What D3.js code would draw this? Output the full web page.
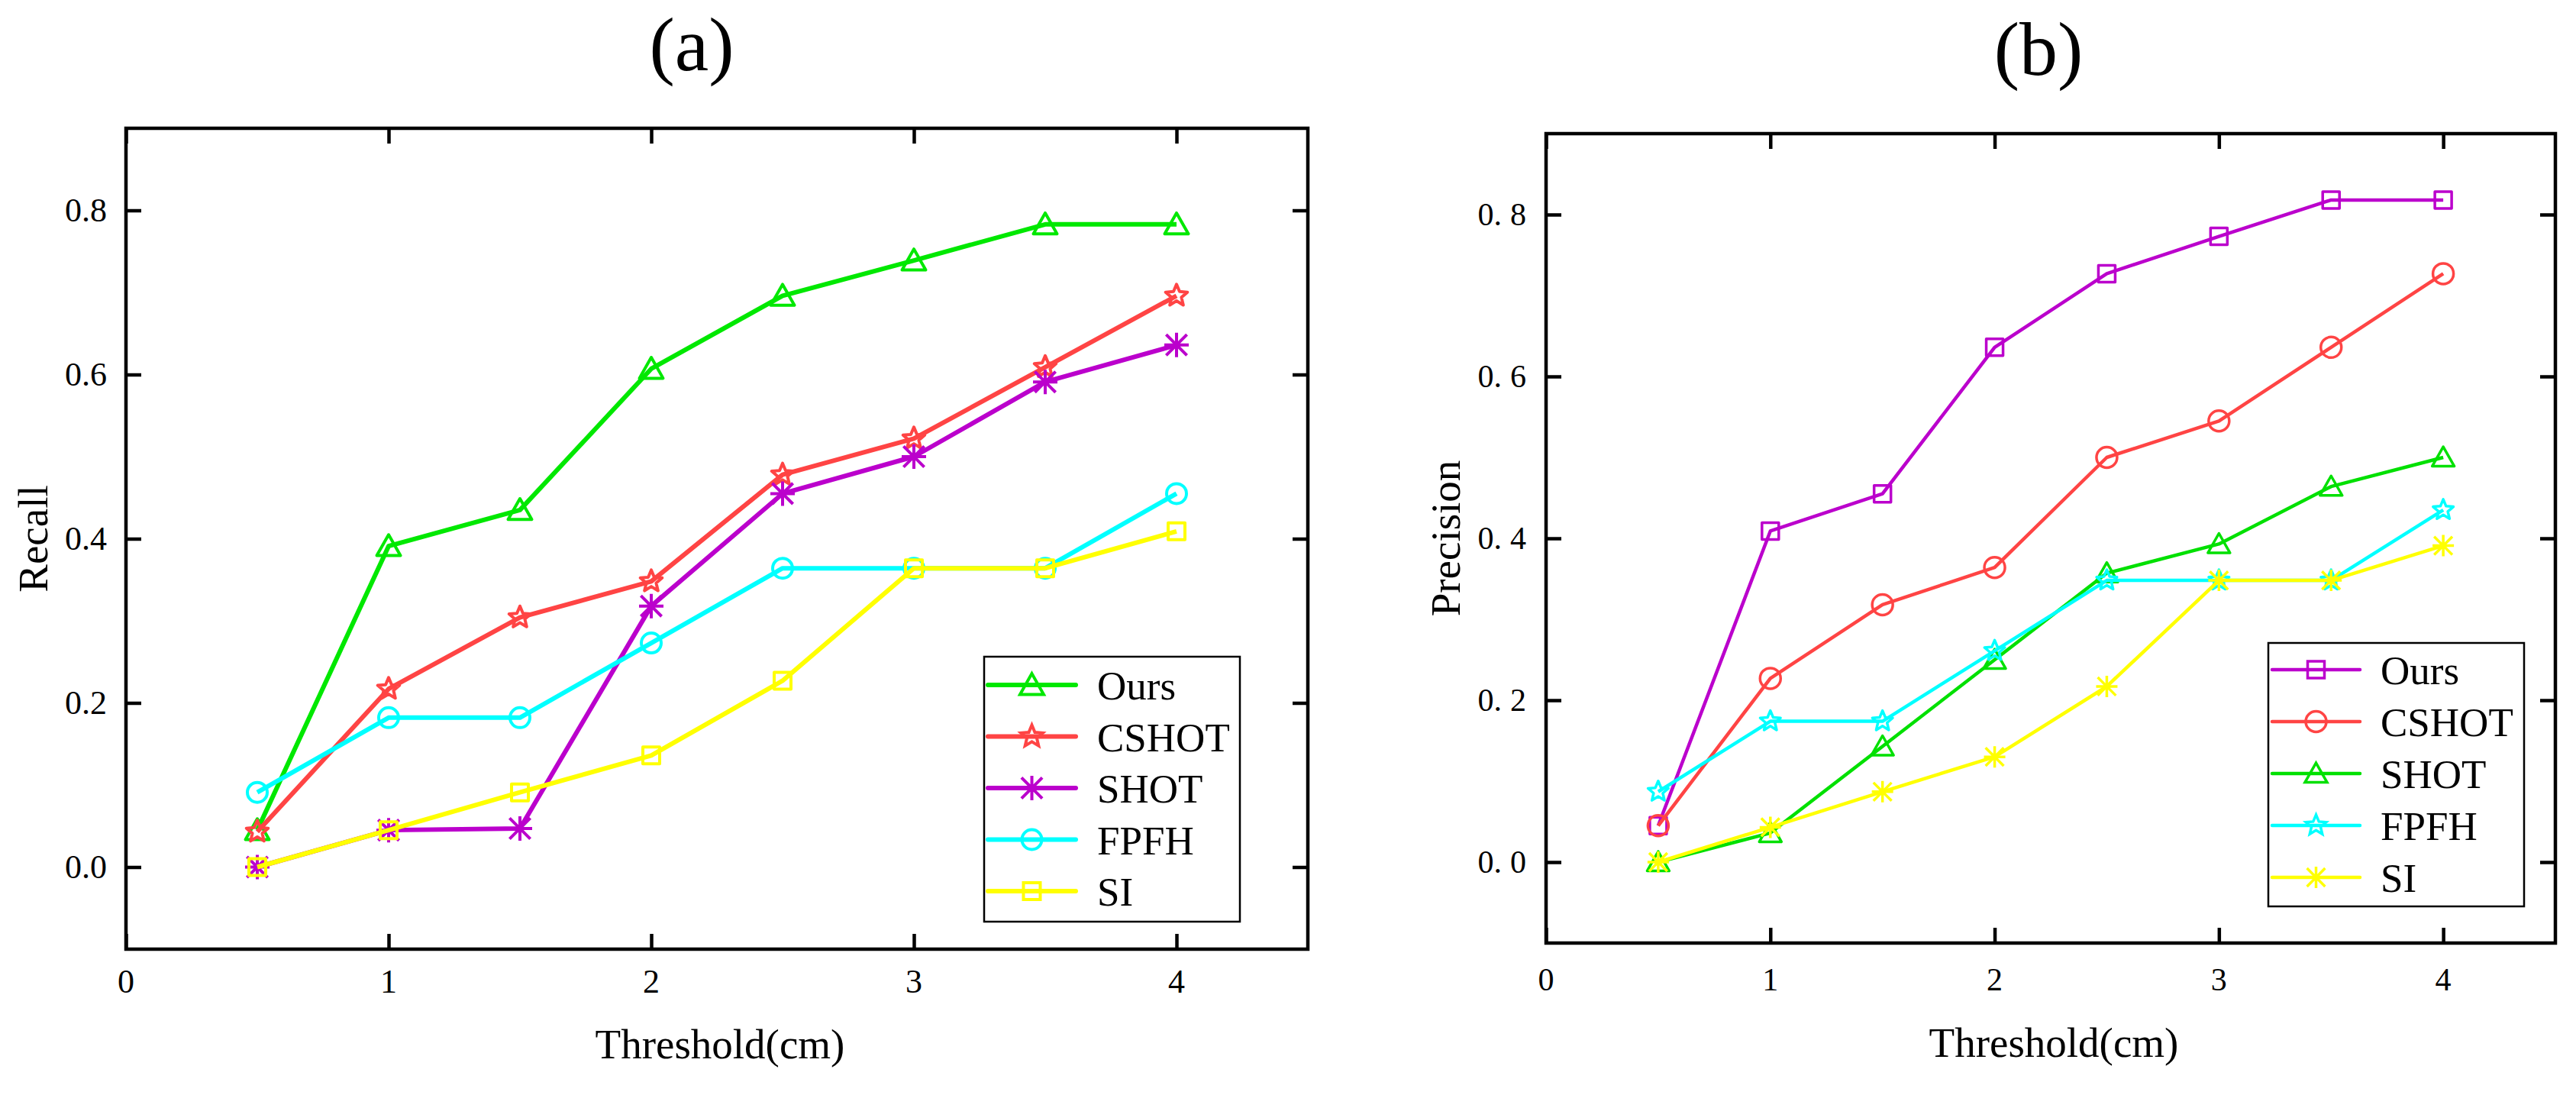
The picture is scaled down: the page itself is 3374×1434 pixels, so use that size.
<!DOCTYPE html>
<html>
<head>
<meta charset="utf-8">
<script src="https://cdn.jsdelivr.net/npm/d3@7"></script>
<style>
body{margin:0;background:#fff}
svg text{font-family:'Liberation Serif','Times New Roman',Times,'DejaVu Serif',serif;fill:#000}
</style>
</head>
<body>
<svg width="3374" height="1434"></svg>
<script>
// thresholds (cm) on the x axis
var thresholds=[0.5,1,1.5,2,2.5,3,3.5,4];
var xTicks=[0,1,2,3,4];
var yTicks=[0,0.2,0.4,0.6,0.8];
var names=["Ours","CSHOT","SHOT","FPFH","SI"];

// (a) recall
var recallOurs=[0.045,0.391,0.435,0.607,0.696,0.739,0.783,0.783];
var recallCSHOT=[0.043,0.217,0.304,0.348,0.478,0.522,0.609,0.696];
var recallSHOT=[0,0.045,0.047,0.318,0.455,0.5,0.591,0.636];
var recallFPFH=[0.091,0.182,0.182,0.273,0.364,0.364,0.364,0.455];
var recallSI=[0,0.045,0.091,0.136,0.227,0.364,0.364,0.409];

// (b) precision
var precOurs=[0.045,0.409,0.455,0.636,0.727,0.773,0.818,0.818];
var precCSHOT=[0.045,0.227,0.318,0.364,0.5,0.545,0.636,0.727];
var precSHOT=[0,0.036,0.143,0.25,0.357,0.393,0.464,0.5];
var precFPFH=[0.087,0.174,0.174,0.261,0.348,0.348,0.348,0.435];
var precSI=[0,0.043,0.087,0.13,0.217,0.348,0.348,0.391];

var serif="'Liberation Serif','Times New Roman',Times,'DejaVu Serif',serif";

function markerPath(type,s)
{
  var h=s/2;
  if(type=="triangle")
    return "M0,"+(-0.48*s)+"L"+h+","+(0.4*s)+"L"+(-h)+","+(0.4*s)+"Z";
  if(type=="square")
    return "M"+(-h)+","+(-h)+"H"+h+"V"+h+"H"+(-h)+"Z";
  if(type=="circle")
    return "M"+(-h)+",0A"+h+","+h+" 0 1 0 "+h+",0A"+h+","+h+" 0 1 0 "+(-h)+",0Z";
  if(type=="star")
  {
    var p=d3.path();
    for(var i=0;i<10;i++)
    {
      var r=i%2==0?h:h*0.45;
      var a=-Math.PI/2+i*Math.PI/5;
      if(i==0) p.moveTo(r*Math.cos(a),r*Math.sin(a));
      else p.lineTo(r*Math.cos(a),r*Math.sin(a));
    }
    p.closePath();
    return p.toString();
  }
  // asterisk
  var d=h*0.85;
  return "M0,"+(-h)+"V"+h+"M"+(-d)+","+(-d)+"L"+d+","+d+"M"+(-d)+","+d+"L"+d+","+(-d)+"M"+(-h)+",0H"+h;
}

function label(g,size)
{
  return g.append("text")
    .attr("font-family",serif)
    .style("font-family",serif)
    .style("font-size",size+"px");
}

function drawPanel(cfg)
{
  var svg=d3.select("svg");
  var g=svg.append("g");
  var x=d3.scaleLinear().domain([0,4.5]).range([cfg.left,cfg.right]);
  var y=d3.scaleLinear().domain([-0.1,0.9]).range([cfg.bottom,cfg.top]);

  // frame
  g.append("rect")
    .attr("x",cfg.left).attr("y",cfg.top)
    .attr("width",cfg.right-cfg.left).attr("height",cfg.bottom-cfg.top)
    .attr("fill","none").attr("stroke","#000").attr("stroke-width",4.5);

  // inward ticks on all four sides
  g.append("g").attr("transform","translate(0,"+cfg.bottom+")")
    .call(d3.axisBottom(x).tickValues(xTicks).tickSize(-20).tickFormat(""))
    .call(a=>a.select(".domain").remove());
  g.append("g").attr("transform","translate(0,"+cfg.top+")")
    .call(d3.axisTop(x).tickValues(xTicks).tickSize(-20).tickFormat(""))
    .call(a=>a.select(".domain").remove());
  g.append("g").attr("transform","translate("+cfg.left+",0)")
    .call(d3.axisLeft(y).tickValues(yTicks).tickSize(-20).tickFormat(""))
    .call(a=>a.select(".domain").remove());
  g.append("g").attr("transform","translate("+cfg.right+",0)")
    .call(d3.axisRight(y).tickValues(yTicks).tickSize(-20).tickFormat(""))
    .call(a=>a.select(".domain").remove());
  g.selectAll(".tick line").attr("stroke","#000").attr("stroke-width",4.5);

  // tick labels
  xTicks.forEach(function(t){
    label(g,cfg.tickFont).attr("x",x(t)).attr("y",cfg.xLabY)
      .attr("text-anchor","middle").text(t);
  });
  yTicks.forEach(function(t){
    var s=t.toFixed(1);
    var tx=label(g,cfg.tickFont).attr("x",cfg.left-cfg.yLabGap)
      .attr("y",y(t)+cfg.tickFont*0.34).attr("text-anchor","end");
    if(cfg.spaced)
    {
      tx.append("tspan").text(s.slice(0,2));
      tx.append("tspan").attr("dx",11).text(s.slice(2));
    }
    else tx.text(s);
  });

  // titles
  label(g,100).attr("x",cfg.titleX).attr("y",cfg.titleY)
    .attr("text-anchor","middle").text(cfg.title);
  label(g,55).attr("x",(cfg.left+cfg.right)/2+4).attr("y",cfg.xTitleY)
    .attr("text-anchor","middle").text("Threshold(cm)");
  label(g,55)
    .attr("transform","translate("+cfg.yTitleX+","+(cfg.top+cfg.bottom)/2+") rotate(-90)")
    .attr("text-anchor","middle").text(cfg.yTitle);

  // series
  var line=d3.line().x((d,i)=>x(thresholds[i])).y(d=>y(d));
  cfg.series.forEach(function(s){
    g.append("path").datum(s.values)
      .attr("d",line).attr("fill","none")
      .attr("stroke",s.color).attr("stroke-width",cfg.lineW)
      .attr("stroke-linejoin","round");
    g.selectAll(null).data(s.values).enter().append("path")
      .attr("transform",(d,i)=>"translate("+x(thresholds[i])+","+y(d)+")")
      .attr("d",markerPath(s.marker,s.size))
      .attr("fill","none").attr("stroke",s.color)
      .attr("stroke-width",cfg.markW).attr("stroke-linejoin","round");
  });

  // legend
  var L=cfg.legend;
  g.append("rect").attr("x",L.x0).attr("y",L.y0)
    .attr("width",L.x1-L.x0).attr("height",L.y1-L.y0)
    .attr("fill","#fff").attr("stroke","#000").attr("stroke-width",2.5);
  cfg.series.forEach(function(s,i){
    var yy=L.row0+i*L.step;
    g.append("line").attr("x1",L.lx0).attr("x2",L.lx1).attr("y1",yy).attr("y2",yy)
      .attr("stroke",s.color).attr("stroke-width",cfg.lineW).attr("stroke-linecap","round");
    g.append("path").attr("transform","translate("+(L.lx0+L.lx1)/2+","+yy+")")
      .attr("d",markerPath(s.marker,s.size))
      .attr("fill","none").attr("stroke",s.color).attr("stroke-width",cfg.markW);
    label(g,53).attr("x",L.tx).attr("y",yy+19).text(s.name);
  });
}

drawPanel({
  left:165,right:1713,top:168,bottom:1243,
  tickFont:44,xLabY:1300,yLabGap:25,spaced:false,
  title:"(a)",titleX:906,titleY:92,xTitleY:1386,yTitle:"Recall",yTitleX:62,
  lineW:6,markW:4,
  series:[
    {name:names[0],values:recallOurs,color:"#00e800",marker:"triangle",size:31},
    {name:names[1],values:recallCSHOT,color:"#ff4444",marker:"star",size:30},
    {name:names[2],values:recallSHOT,color:"#bb00cc",marker:"asterisk",size:32},
    {name:names[3],values:recallFPFH,color:"#00ffff",marker:"circle",size:26},
    {name:names[4],values:recallSI,color:"#ffff00",marker:"square",size:22}
  ],
  legend:{x0:1289,x1:1624,y0:860,y1:1207,row0:897,step:67.5,lx0:1294,lx1:1409,tx:1437}
});

drawPanel({
  left:2025,right:3347,top:175,bottom:1235,
  tickFont:42,xLabY:1297,yLabGap:26,spaced:true,
  title:"(b)",titleX:2670,titleY:98,xTitleY:1384,yTitle:"Precision",yTitleX:1912,
  lineW:4.5,markW:3.5,
  series:[
    {name:names[0],values:precOurs,color:"#bb00cc",marker:"square",size:22},
    {name:names[1],values:precCSHOT,color:"#ff4444",marker:"circle",size:27},
    {name:names[2],values:precSHOT,color:"#00e000",marker:"triangle",size:29},
    {name:names[3],values:precFPFH,color:"#00ffff",marker:"star",size:28},
    {name:names[4],values:precSI,color:"#ffff00",marker:"asterisk",size:28}
  ],
  legend:{x0:2971,x1:3306,y0:842,y1:1187,row0:877,step:68,lx0:2976,lx1:3091,tx:3118}
});
</script>
</body>
</html>
